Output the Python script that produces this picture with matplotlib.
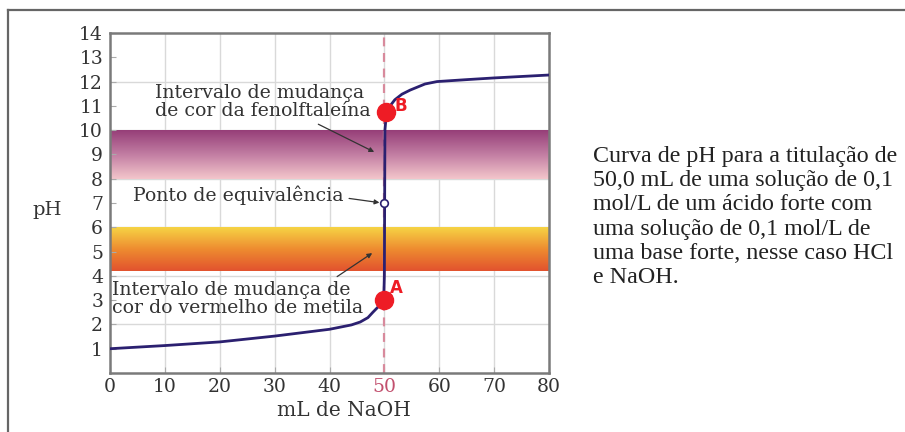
import matplotlib
matplotlib.use('Agg')
import matplotlib.pyplot as plt
import numpy as np
from matplotlib.colors import LinearSegmentedColormap
from matplotlib.lines import Line2D

# Data
vol = [0, 10, 20, 30, 40, 44, 45.6, 47, 47.9, 49.2, 49.9, 50.0, 50.05, 50.1, 50.3, 50.7,
       51.9, 53.2, 54.7, 57.4, 59.6, 65, 70, 75, 80]
ph = [1.0, 1.13, 1.28, 1.52, 1.8, 1.98, 2.1, 2.28, 2.5, 2.8, 3.2, 4.0, 7.0, 10.0, 10.5, 10.9,
      11.25, 11.48, 11.65, 11.9, 12.0, 12.08, 12.15, 12.21, 12.27]
equiv_vol, equiv_ph = 50, 7.0
point_a = (49.9, 3.0)
point_b = (50.25, 10.75)
phenol_band = (8.0, 10.0)
methyl_band = (4.2, 6.0)
x_ticks = [0, 10, 20, 30, 40, 50, 60, 70, 80]
y_ticks = list(range(1, 15))

serif = 'DejaVu Serif'
fig = plt.figure(figsize=(9.05, 4.32), dpi=100)
ax = fig.add_axes([110 / 905, 1 - 373 / 432, 439 / 905, 340 / 432])
ax.set_xlim(0, 80)
ax.set_ylim(0, 14)

# grid
for gx in range(10, 80, 10):
    ax.axvline(gx, color='#d9d9d9', lw=1, zorder=0)
for gy in range(2, 14, 2):
    ax.axhline(gy, color='#d9d9d9', lw=1, zorder=0)

# gradient bands
purple = LinearSegmentedColormap.from_list('p', ['#f3c6cb', '#c27ea3', '#963e78'])
orange = LinearSegmentedColormap.from_list('o', ['#e2522e', '#ee8c30', '#f6d445'])
grad = np.linspace(0, 1, 256).reshape(-1, 1)
ax.imshow(grad, cmap=purple, origin='lower', aspect='auto',
          extent=[0, 80, phenol_band[0], phenol_band[1]], zorder=1)
ax.imshow(grad, cmap=orange, origin='lower', aspect='auto',
          extent=[0, 80, methyl_band[0], methyl_band[1]], zorder=1)

# equivalence dashed line
ax.axvline(equiv_vol, color='#d88a9c', lw=1.6, ls=(0, (4, 3)), zorder=2)

# titration curve
ax.plot(vol, ph, color='#2b2070', lw=2, zorder=3, solid_capstyle='round')
ax.plot(equiv_vol, equiv_ph, 'o', ms=5.5, mfc='white', mec='#2b2070', mew=1.2, zorder=4)

# red points
ax.plot(*point_a, 'o', ms=13, color='#ee1c25', zorder=5)
ax.plot(*point_b, 'o', ms=13, color='#ee1c25', zorder=5)
ax.text(point_a[0] + 1.2, point_a[1] + 0.5, 'A', color='#ee1c25', fontsize=12,
        fontweight='bold', family='DejaVu Sans', va='center', ha='left', zorder=6)
ax.text(point_b[0] + 1.6, point_b[1] + 0.25, 'B', color='#ee1c25', fontsize=12,
        fontweight='bold', family='DejaVu Sans', va='center', ha='left', zorder=6)

# annotations
fs_note = 13.6
arr = dict(arrowstyle='-|>', color='#333333', lw=0.9, mutation_scale=7)
ax.annotate('Intervalo de mudança\nde cor da fenolftaleína', xy=(48.6, 9.05),
            xytext=(8.2, 11.15), ha='left', va='center', fontsize=fs_note, family=serif,
            color='#333333', linespacing=1.0, arrowprops=dict(arr, relpos=(0.72, 0)),
            zorder=6)
ax.annotate('Ponto de equivalência', xy=(49.6, 7.0), xytext=(4.2, 7.3),
            ha='left', va='center', fontsize=fs_note, family=serif, color='#333333',
            arrowprops=dict(arr, relpos=(1, 0.4)), zorder=6)
ax.annotate('Intervalo de mudança de\ncor do vermelho de metila', xy=(48.2, 5.0),
            xytext=(0.4, 3.05), ha='left', va='center', fontsize=fs_note, family=serif,
            color='#333333', linespacing=1.0, arrowprops=dict(arr, relpos=(0.87, 1)),
            zorder=6)

# axes styling
for s in ax.spines.values():
    s.set_color('#7a7a7a')
    s.set_linewidth(1.8)
ax.set_xticks(x_ticks)
ax.set_yticks(y_ticks)
ax.tick_params(axis='both', direction='in', length=4, color='#aaaaaa',
               labelsize=13.5, labelcolor='#333333')
ax.tick_params(axis='y', pad=5)
for lab in ax.get_xticklabels() + ax.get_yticklabels():
    lab.set_family(serif)
for lab in ax.get_xticklabels():
    if lab.get_text() == '50':
        lab.set_color('#c2506e')

fig.text(47 / 905, 1 - 210 / 432, 'pH', family=serif, fontsize=14, color='#333333',
         ha='center', va='center')
fig.text(344 / 905, 1 - 411 / 432, 'mL de NaOH', family=serif, fontsize=14.5,
         color='#333333', ha='center', va='center')

caption = ('Curva de pH para a titulação de\n50,0 mL de uma solução de 0,1\n'
           'mol/L de um ácido forte com\numa solução de 0,1 mol/L de\n'
           'uma base forte, nesse caso HCl\ne NaOH.')
fig.text(593 / 905, 1 - 146 / 432, caption, family='Liberation Serif', fontsize=17.3,
         color='#222222', ha='left', va='top', linespacing=1.2)

# outer frame
fig.add_artist(Line2D([8 / 905, 8 / 905], [0, 1 - 10 / 432], transform=fig.transFigure,
                      color='#666666', lw=1.6))
fig.add_artist(Line2D([8 / 905, 1], [1 - 10 / 432, 1 - 10 / 432], transform=fig.transFigure,
                      color='#666666', lw=1.6))

fig.savefig('out.png', dpi=100)
